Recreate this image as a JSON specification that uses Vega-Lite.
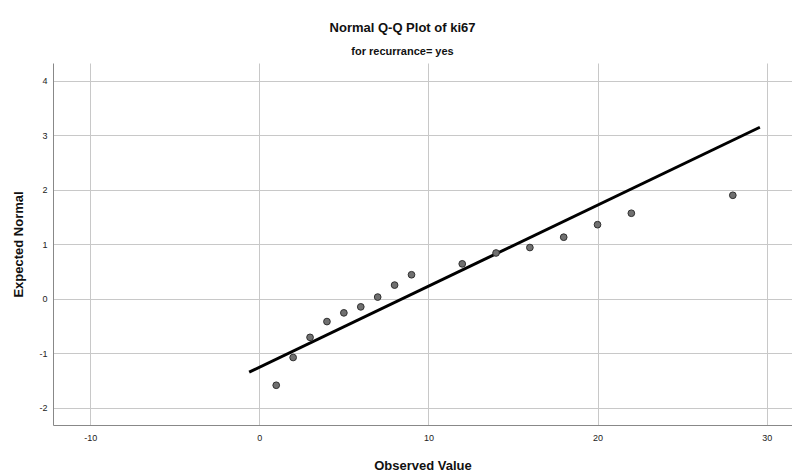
{
  "$schema": "https://vega.github.io/schema/vega-lite/v6.json",
  "width": 739,
  "height": 362,
  "autosize": {"type": "none"},
  "padding": {"left": 53, "top": 63, "right": 0, "bottom": 48},
  "background": "white",
  "config": {
    "font": "Liberation Sans",
    "view": {"stroke": null},
    "axis": {
      "labelFont": "Liberation Sans",
      "titleFont": "Liberation Sans",
      "labelFontSize": 9,
      "labelColor": "#222222",
      "titleFontSize": 13,
      "titleFontWeight": "bold",
      "titleColor": "#111111",
      "gridColor": "#c8c8c8",
      "gridWidth": 1,
      "domainColor": "#888888",
      "domainWidth": 1,
      "ticks": false
    }
  },
  "title": {
    "text": "Normal Q-Q Plot of ki67",
    "subtitle": "for recurrance= yes",
    "font": "Liberation Sans",
    "subtitleFont": "Liberation Sans",
    "fontSize": 13,
    "fontWeight": "bold",
    "subtitleFontSize": 11,
    "subtitleFontWeight": "bold",
    "color": "#111111",
    "subtitleColor": "#111111",
    "anchor": "middle",
    "dx": -20,
    "offset": 6,
    "subtitlePadding": 11
  },
  "datasets": {
    "points": [
      {"observed": 1, "expected": -1.59},
      {"observed": 2, "expected": -1.08},
      {"observed": 3, "expected": -0.71},
      {"observed": 4, "expected": -0.42},
      {"observed": 5, "expected": -0.26},
      {"observed": 6, "expected": -0.15},
      {"observed": 7, "expected": 0.03},
      {"observed": 8, "expected": 0.25},
      {"observed": 9, "expected": 0.44},
      {"observed": 12, "expected": 0.64},
      {"observed": 14, "expected": 0.84},
      {"observed": 16, "expected": 0.94},
      {"observed": 18, "expected": 1.13},
      {"observed": 20, "expected": 1.36},
      {"observed": 22, "expected": 1.57},
      {"observed": 28, "expected": 1.90}
    ],
    "line": [
      {"observed": -0.6, "expected": -1.35},
      {"observed": 29.6, "expected": 3.15}
    ]
  },
  "layer": [
    {
      "data": {"name": "line"},
      "mark": {"type": "line", "color": "#000000", "strokeWidth": 3, "clip": true},
      "encoding": {
        "x": {
          "field": "observed",
          "type": "quantitative",
          "scale": {"domain": [-12.2, 31.5], "nice": false, "zero": false},
          "axis": {
            "title": "Observed Value",
            "values": [-10, 0, 10, 20, 30],
            "labelExpr": "toString(datum.value)",
            "labelPadding": 8,
            "titlePadding": 17,
            "grid": true
          }
        },
        "y": {
          "field": "expected",
          "type": "quantitative",
          "scale": {"domain": [-2.32, 4.33], "nice": false, "zero": false},
          "axis": {
            "title": "Expected Normal",
            "values": [-2, -1, 0, 1, 2, 3, 4],
            "labelExpr": "toString(datum.value)",
            "labelPadding": 6,
            "titlePadding": 13,
            "grid": true
          }
        }
      }
    },
    {
      "data": {"name": "points"},
      "mark": {"type": "point", "filled": true, "fill": "#707070", "stroke": "#303030", "strokeWidth": 1, "size": 45, "opacity": 1},
      "encoding": {
        "x": {"field": "observed", "type": "quantitative"},
        "y": {"field": "expected", "type": "quantitative"}
      }
    }
  ]
}
